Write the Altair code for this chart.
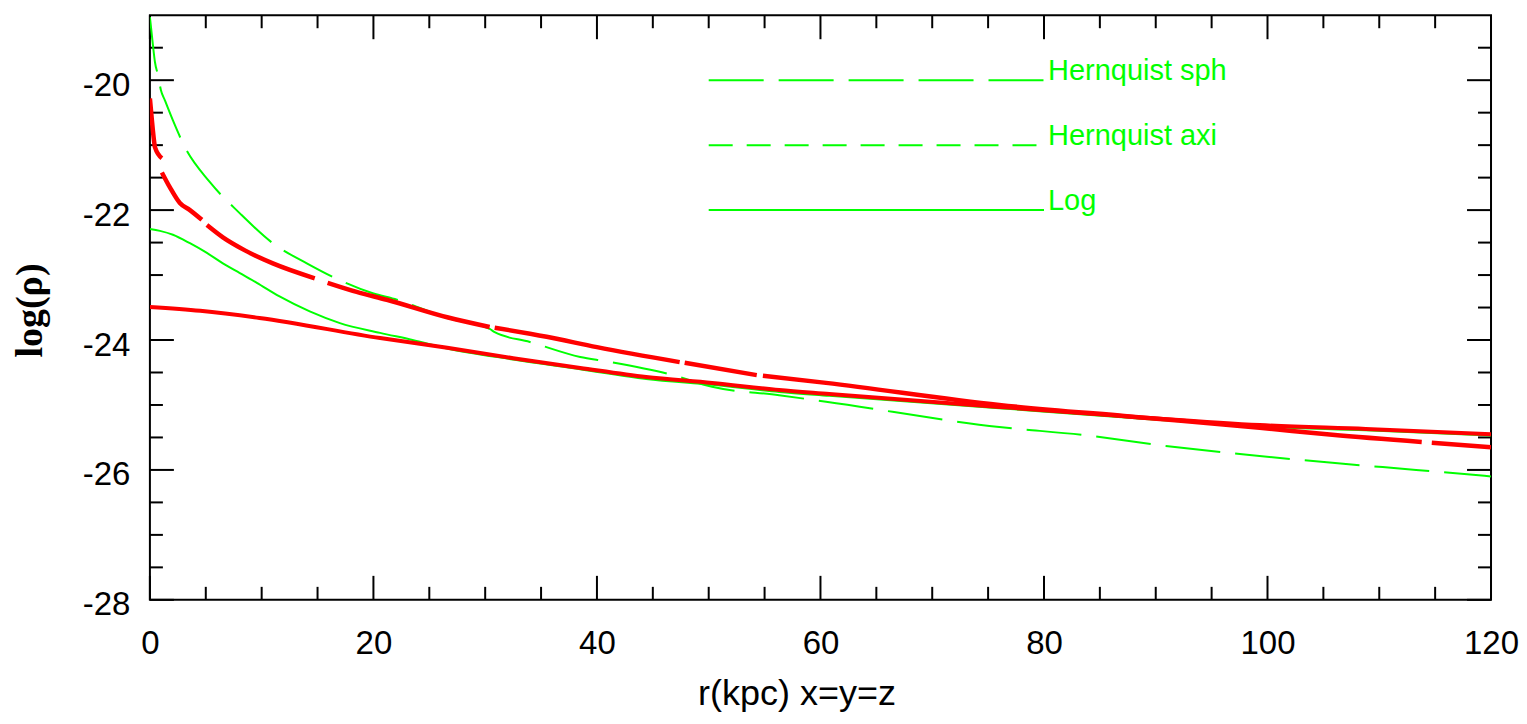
import altair as alt
import pandas as pd

# ---------------- data ----------------
# Hernquist sph (green, long dashes)
sph_r = [0, 0.27, 0.45, 0.72, 0.98, 1.34, 2.06, 3.13, 5.37, 8.05, 11.0, 14.04, 17.0, 19.94,
         22.1, 26.6, 30.4, 30.85, 34.0, 38.5, 40.9, 46.8, 50.3, 56.3, 60.5, 76.0, 83.4,
         90.9, 98.4, 105.8, 113.3, 120]
sph_logrho = [-19.03, -19.46, -19.72, -19.92, -20.15, -20.31, -20.62, -21.03, -21.57, -22.05,
              -22.51, -22.82, -23.08, -23.28, -23.38, -23.66, -23.83, -23.88, -24.03, -24.26,
              -24.33, -24.54, -24.72, -24.85, -24.95, -25.34, -25.46, -25.63, -25.77, -25.89,
              -26.0, -26.1]

# Log (green, solid)
log_r = [0, 0.9, 2.06, 3.58, 5.1, 6.53, 8.05, 9.57, 11.6, 14.3, 17.0, 20.6, 23.5, 26.6,
         32.5, 38.5, 44.4, 50.3, 56.3, 60.8, 76.0, 87.9, 99.3, 108.8, 120]
log_logrho = [-22.29, -22.32, -22.38, -22.51, -22.66, -22.82, -22.97, -23.12, -23.33, -23.56,
              -23.74, -23.89, -24.0, -24.13, -24.3, -24.45, -24.6, -24.69, -24.8, -24.86,
              -25.05, -25.2, -25.33, -25.39, -25.47]

# red cuspy profile (broken line, segment ids)
cusp_seg = [1, 1, 1, 1, 1,
            2, 2, 2, 2, 2,
            3, 3, 3, 3, 3,
            4, 4, 4, 4, 4,
            5, 5, 5, 5,
            6, 6,
            7, 7, 7, 7, 7, 7, 7,
            8, 8]
cusp_r = [0, 0.18, 0.36, 0.45, 1.07,
          1.07, 1.79, 2.68, 3.58, 4.65,
          5.1, 6.53, 8.5, 11.0, 14.75,
          15.9, 18.5, 21.2, 26.6, 30.4,
          30.85, 35.5, 40.0, 47.4,
          47.85, 54.3,
          54.85, 60.5, 76.0, 87.9, 99.3, 105.8, 113.8,
          114.7, 120]
cusp_logrho = [-20.28, -20.62, -20.92, -21.03, -21.2,
               -21.42, -21.65, -21.89, -22.0, -22.15,
               -22.23, -22.42, -22.62, -22.82, -23.05,
               -23.12, -23.26, -23.38, -23.65, -23.8,
               -23.81, -23.95, -24.11, -24.34,
               -24.35, -24.54,
               -24.55, -24.66, -25.0, -25.18, -25.35, -25.46, -25.57,
               -25.58, -25.65]

# red cored profile (solid)
core_r = [0, 4.5, 9.8, 20.6, 26.6, 32.5, 38.5, 44.4, 50.3, 56.3, 60.8, 76.0, 87.9, 99.3, 108.8, 120]
core_logrho = [-23.49, -23.55, -23.66, -23.97, -24.12, -24.28, -24.43, -24.57, -24.66, -24.77,
               -24.83, -25.03, -25.18, -25.31, -25.37, -25.45]

# in-plot legend (drawn in data coordinates)
legend_labels = ["Hernquist sph", "Hernquist axi", "Log"]
legend_y = [-20, -21, -22]
legend_x_start = 50
legend_x_end = 80

# axis ticks
x_major = [0, 20, 40, 60, 80, 100, 120]
x_minor = [5, 10, 15, 25, 30, 35, 45, 50, 55, 65, 70, 75, 85, 90, 95, 105, 110, 115]
y_major = [-28, -26, -24, -22, -20]
y_minor = [-27.5, -27, -26.5, -25.5, -25, -24.5, -23.5, -23, -22.5, -21.5, -21, -20.5, -19.5]

# ---------------- styling ----------------
W, H = 1342, 585
GREEN = "#00ff00"
RED = "#ff0000"
FONT = "Liberation Sans"
MAJ, MIN = 24, 13

xs = alt.Scale(domain=[0, 120], nice=False, zero=False)
ys = alt.Scale(domain=[-28, -19], nice=False, zero=False)

X_AXIS = alt.Axis(values=x_major, title="r(kpc) x=y=z", grid=False, domain=False, ticks=False,
                  tickSize=0, labelFont=FONT, labelFontSize=33, labelColor="black",
                  labelPadding=28, labelFlush=False, labelOverlap=False,
                  labelExpr="'' + datum.value",
                  titleFont=FONT, titleFontSize=36, titleFontWeight="normal", titleColor="black",
                  titleX=647, titleY=105, titleBaseline="alphabetic", titleAlign="center")
Y_AXIS = alt.Axis(values=y_major, title="log(ρ)", grid=False, domain=False, ticks=False,
                  tickSize=0, labelFont=FONT, labelFontSize=33, labelColor="black",
                  labelPadding=20, labelOffset=5, labelOverlap=False, labelFlush=False,
                  labelExpr="'' + datum.value",
                  titleFont="Liberation Serif", titleFontSize=38, titleFontWeight="bold",
                  titleColor="black", titleAngle=270, titleX=-108, titleY=295,
                  titleLimit=400, titleBaseline="alphabetic", titleAlign="center")


def xenc(field):
    return alt.X(f"{field}:Q", scale=xs, axis=X_AXIS)


def yenc(field):
    return alt.Y(f"{field}:Q", scale=ys, axis=Y_AXIS)


sph_df = pd.DataFrame({"r": sph_r, "v": sph_logrho})
log_df = pd.DataFrame({"r": log_r, "v": log_logrho})
cusp_df = pd.DataFrame({"r": cusp_r, "v": cusp_logrho, "seg": cusp_seg})
core_df = pd.DataFrame({"r": core_r, "v": core_logrho})

log_line = alt.Chart(log_df).mark_line(color=GREEN, strokeWidth=2, clip=True,
                                       interpolate="monotone").encode(
    x=xenc("r"), y=yenc("v"), order="r:Q")
sph_line = alt.Chart(sph_df).mark_line(color=GREEN, strokeWidth=2, strokeDash=[55, 15],
                                       clip=True, interpolate="monotone").encode(
    x=xenc("r"), y=yenc("v"), order="r:Q")
core_line = alt.Chart(core_df).mark_line(color=RED, strokeWidth=4, clip=True,
                                         interpolate="monotone").encode(
    x=xenc("r"), y=yenc("v"), order="r:Q")
cusp_line = alt.Chart(cusp_df).mark_line(color=RED, strokeWidth=4.5, clip=True,
                                         interpolate="monotone").encode(
    x=xenc("r"), y=yenc("v"), detail="seg:N", order="r:Q")

dashes = [[55, 15], [24, 14], [1, 0]]
legend_lines = []
for lab, yy, dash in zip(legend_labels, legend_y, dashes):
    d = pd.DataFrame({"x0": [legend_x_start], "x1": [legend_x_end], "y": [yy]})
    legend_lines.append(
        alt.Chart(d).mark_rule(color=GREEN, strokeWidth=2, strokeDash=dash).encode(
            x=xenc("x0"), x2="x1:Q", y=yenc("y")))
leg_text_df = pd.DataFrame({"x": [legend_x_end] * 3, "y": legend_y, "label": legend_labels})
legend_text = alt.Chart(leg_text_df).mark_text(
    align="left", baseline="alphabetic", dx=4, font=FONT, fontSize=29, color=GREEN
).encode(x=xenc("x"), y=yenc("y"), text="label:N")

# inside tick marks on all four sides
ymaj_df = pd.DataFrame({"t": y_major})
ymin_df = pd.DataFrame({"t": y_minor})
xmaj_df = pd.DataFrame({"t": x_major})
xmin_df = pd.DataFrame({"t": x_minor})
tick_layers = []
for df, ln in [(ymaj_df, MAJ), (ymin_df, MIN)]:
    tick_layers.append(alt.Chart(df).mark_rule(color="black", strokeWidth=2).encode(
        y=yenc("t"), x=alt.value(0), x2=alt.value(ln)))
    tick_layers.append(alt.Chart(df).mark_rule(color="black", strokeWidth=2).encode(
        y=yenc("t"), x=alt.value(W), x2=alt.value(W - ln)))
for df, ln in [(xmaj_df, MAJ), (xmin_df, MIN)]:
    tick_layers.append(alt.Chart(df).mark_rule(color="black", strokeWidth=2).encode(
        x=xenc("t"), y=alt.value(0), y2=alt.value(ln)))
    tick_layers.append(alt.Chart(df).mark_rule(color="black", strokeWidth=2).encode(
        x=xenc("t"), y=alt.value(H), y2=alt.value(H - ln)))

chart = alt.layer(
    *tick_layers, log_line, sph_line, core_line, cusp_line, *legend_lines, legend_text
).properties(
    width=W, height=H,
    autosize=alt.AutoSizeParams(type="none"),
    padding={"left": 142, "top": 7, "right": 28, "bottom": 116},
    background="white",
).configure_view(stroke="black", strokeWidth=2)

chart.save("out.html", embed_options={"renderer": "svg", "actions": False})
